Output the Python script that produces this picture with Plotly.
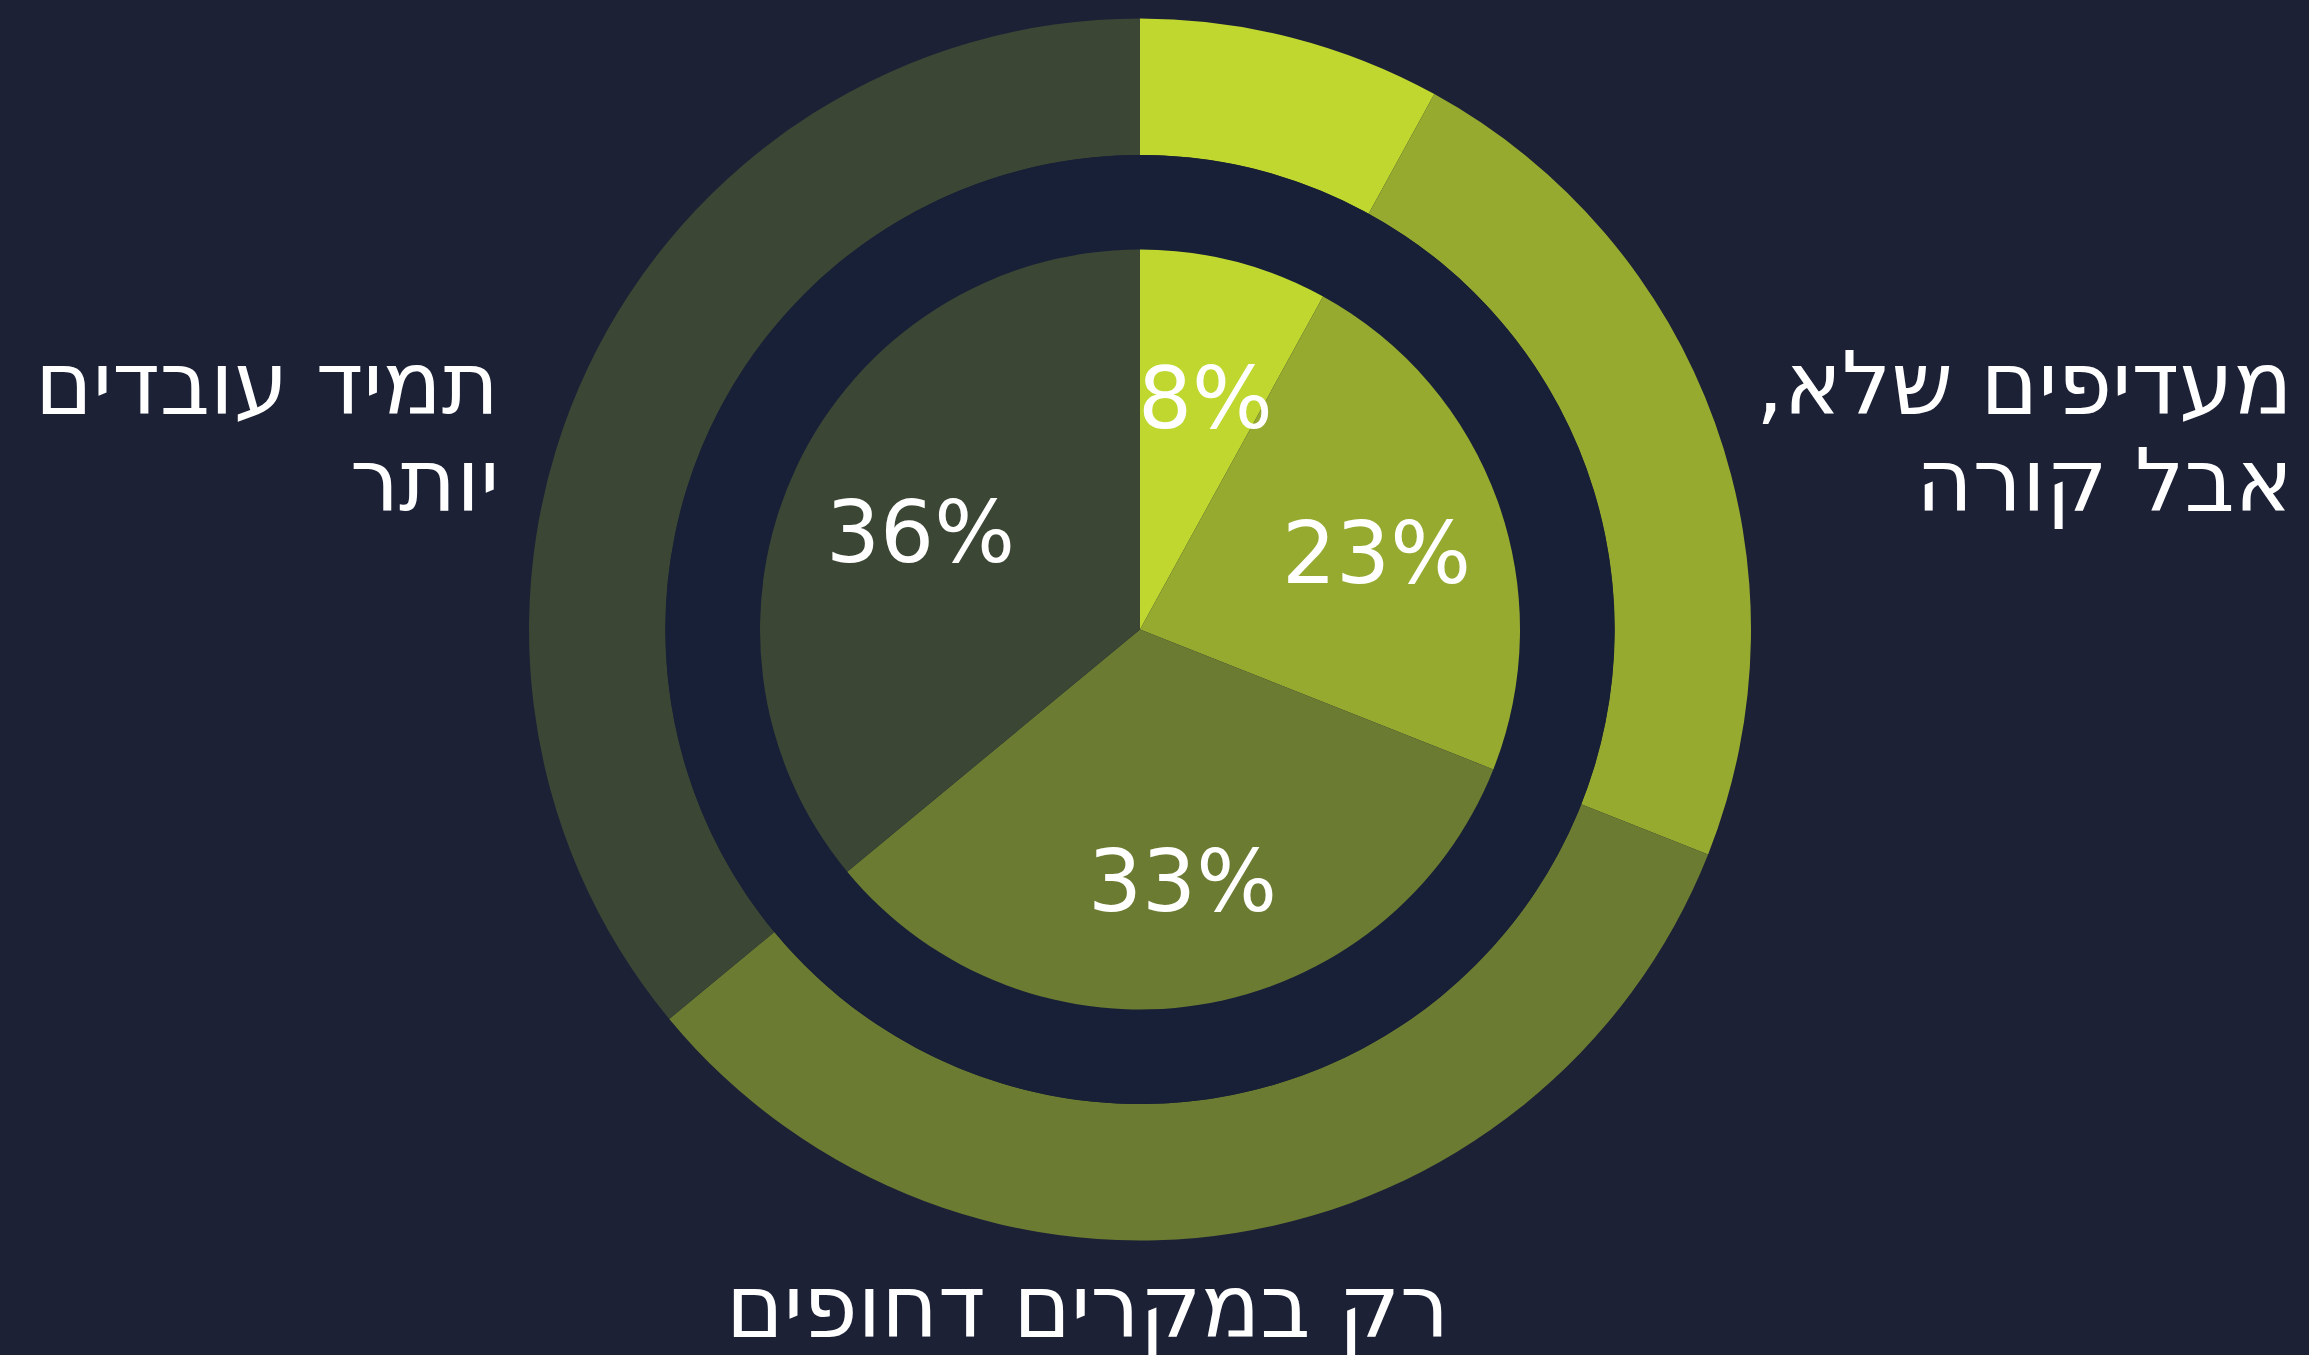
"""Nested pie: share of answers, with a ring of the same values around it."""

import numpy as np
import plotly.graph_objects as go

# data
categories = [
    "",
    "מעדיפים שלא,<br>אבל קורה",
    "רק במקרים דחופים",
    "תמיד עובדים<br>יותר",
]
shares = [8, 23, 33, 36]

# style
COLORS = ["#bfd72f", "#97aa30", "#6b7b31", "#3b4634"]
PAPER_BG = "#1c2136"
GAP_BG = "#182037"
FONT = "DejaVu Sans"
FONT_SIZE = 87
LINE_GAP = 97  # px between label lines

W, H = 2309, 1355
CX, CY = 1140, 629.5  # pie centre in px (from top-left)
R_OUTER, R_GAP, R_INNER = 611, 474.5, 380
PCT_RADIUS = 0.65  # percent labels, as a fraction of the inner radius
PCT_SHIFT = (4, 8)  # small px nudge of the percent labels

# anchor of the first line of each ring label, px from top-left
LABEL_POS = [
    None,
    dict(x=2295, y=384, xanchor="right"),
    dict(x=1087, y=1307, xanchor="center"),
    dict(x=501, y=384, xanchor="right"),
]


def domain(r):
    return {
        "x": [(CX - r) / W, (CX + r) / W],
        "y": [1 - (CY + r) / H, 1 - (CY - r) / H],
    }


fig = go.Figure()

# outer ring
fig.add_trace(
    go.Pie(
        values=shares,
        labels=[f"s{i}" for i in range(len(shares))],
        hole=R_GAP / R_OUTER,
        sort=False,
        direction="clockwise",
        marker={"colors": COLORS, "line": {"width": 0}},
        textinfo="none",
        hoverinfo="skip",
        domain=domain(R_OUTER),
    )
)

# dark band between ring and pie
fig.add_trace(
    go.Pie(
        values=[1],
        labels=["gap"],
        marker={"colors": [GAP_BG], "line": {"width": 0}},
        textinfo="none",
        hoverinfo="skip",
        domain=domain(R_GAP),
    )
)

# inner pie
fig.add_trace(
    go.Pie(
        values=shares,
        labels=[f"s{i}" for i in range(len(shares))],
        sort=False,
        direction="clockwise",
        marker={"colors": COLORS, "line": {"width": 0}},
        textinfo="none",
        hoverinfo="skip",
        domain=domain(R_INNER),
    )
)

# percent labels at each slice's mid angle
vals = np.array(shares, dtype=float)
ends = np.cumsum(vals) / vals.sum() * 360
mids = np.radians(ends - vals / vals.sum() * 180)
for share, ang in zip(shares, mids):
    px = CX + PCT_RADIUS * R_INNER * np.sin(ang) + PCT_SHIFT[0]
    py = CY - PCT_RADIUS * R_INNER * np.cos(ang) + PCT_SHIFT[1]
    fig.add_annotation(
        x=px / W,
        y=1 - py / H,
        xref="paper",
        yref="paper",
        xanchor="center",
        yanchor="middle",
        text=f"{share}%",
        showarrow=False,
        font={"family": FONT, "size": FONT_SIZE - 2, "color": "white"},
    )

# category labels round the ring, one annotation per line
# (RLM marks keep the trailing comma on the left, as in RTL text)
for label, pos in zip(categories, LABEL_POS):
    if not label:
        continue
    for i, line in enumerate(label.split("<br>")):
        fig.add_annotation(
            text=f"\u200f{line}\u200f",
            x=pos["x"] / W,
            y=1 - (pos["y"] + i * LINE_GAP) / H,
            xref="paper",
            yref="paper",
            xanchor=pos["xanchor"],
            yanchor="middle",
            showarrow=False,
            font={"family": FONT, "size": FONT_SIZE, "color": "white"},
        )

fig.update_layout(
    width=W,
    height=H,
    margin={"l": 0, "r": 0, "t": 0, "b": 0},
    paper_bgcolor=PAPER_BG,
    plot_bgcolor=PAPER_BG,
    showlegend=False,
)

fig.write_html(
    "out.html",
    config={"displayModeBar": False},
    post_script="document.body.style.margin='0';document.body.style.overflow='hidden';",
)
